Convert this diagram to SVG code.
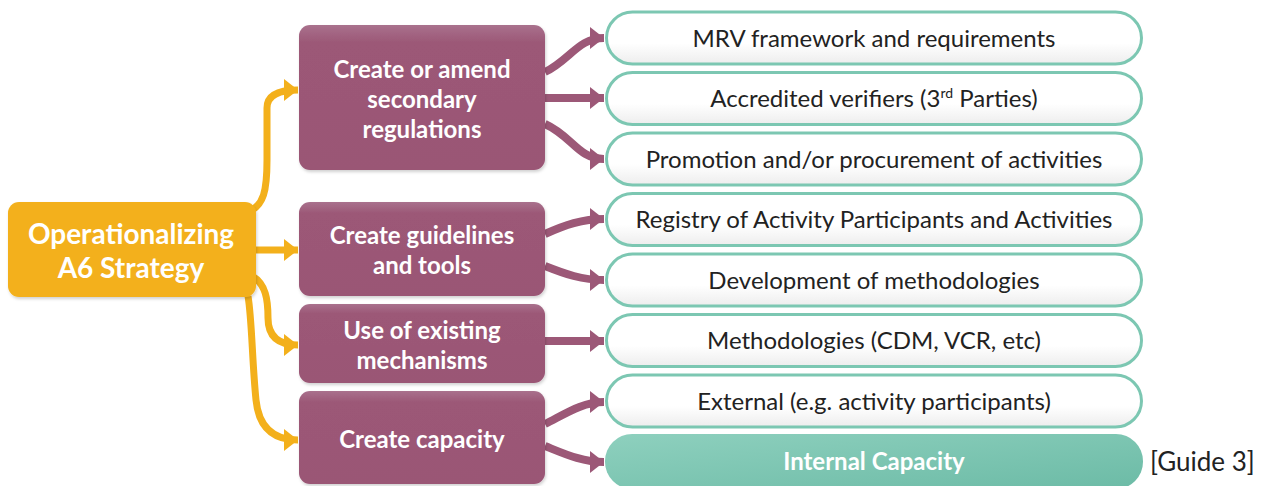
<svg xmlns="http://www.w3.org/2000/svg" width="1268" height="486" viewBox="0 0 1268 486">
<defs>
<linearGradient id="gPurple" x1="0" y1="0" x2="0" y2="1">
<stop offset="0" stop-color="#A9718D"/>
<stop offset="0.12" stop-color="#9C5877"/>
<stop offset="1" stop-color="#9A5675"/>
</linearGradient>
<linearGradient id="gWhite" x1="0" y1="0" x2="0" y2="1">
<stop offset="0" stop-color="#FFFFFF"/>
<stop offset="0.6" stop-color="#FFFFFF"/>
<stop offset="1" stop-color="#EDEDED"/>
</linearGradient>
<linearGradient id="gTeal" x1="0" y1="0" x2="1" y2="1">
<stop offset="0" stop-color="#8ED0BE"/>
<stop offset="1" stop-color="#6CBBA6"/>
</linearGradient>
<marker id="aOr" markerUnits="userSpaceOnUse" markerWidth="16" markerHeight="22" refX="14" refY="11" orient="auto">
<path d="M0,0 L14,11 L0,22 Z" fill="#F3B01B"/>
</marker>
<marker id="aPu" markerUnits="userSpaceOnUse" markerWidth="16" markerHeight="22" refX="14" refY="11" orient="auto">
<path d="M0,0 L14,11 L0,22 Z" fill="#9C5877"/>
</marker>
<filter id="sh" x="-5%" y="-5%" width="112%" height="120%">
<feDropShadow dx="1" dy="2" stdDeviation="1.5" flood-color="#000" flood-opacity="0.18"/>
</filter>
</defs>
<style>
.or{fill:none;stroke:#F3B01B;stroke-width:7;marker-end:url(#aOr)}
.pu{fill:none;stroke:#9C5877;stroke-width:8;marker-end:url(#aPu)}
.pbox{fill:url(#gPurple);filter:url(#sh)}
.wbox{fill:url(#gWhite);stroke:#7CC7B2;stroke-width:3}
.ptxt{font-family:Lato,"Open Sans",sans-serif;font-weight:bold;font-size:24px;fill:#FFFFFF;text-anchor:middle}
.wtxt{font-family:Lato,"Open Sans",sans-serif;font-size:24px;fill:#222222;text-anchor:middle}
</style>
<g id="connectors">
<path class="or" d="M248,212 C264,206 267,190 267,160 L267,108 Q267,90 298,90"/>
<path class="or" d="M256,250 L298,250"/>
<path class="or" d="M252,276 C266,284 268,300 268,318 Q268,345 298,345"/>
<path class="or" d="M248,296 C252,320 252,360 256,400 Q260,440 298,440"/>
<path class="pu" d="M545,72 C570,60 578,38 604,38"/>
<path class="pu" d="M545,98 L604,98"/>
<path class="pu" d="M545,124 C572,136 578,159 604,159"/>
<path class="pu" d="M545,234 C565,225 582,219 604,219"/>
<path class="pu" d="M545,266 C565,274 582,280 604,280"/>
<path class="pu" d="M545,341 L604,341"/>
<path class="pu" d="M545,424 C565,414 582,402 604,402"/>
<path class="pu" d="M545,446 C565,454 582,462 604,462"/>
</g>
<g id="n0">
<rect x="8" y="202" width="248" height="95" rx="11" fill="#F3B01B" filter="url(#sh)"/>
<text x="131" y="244" font-family="Lato,'Open Sans',sans-serif" font-weight="bold" font-size="28" fill="#FFFFFF" text-anchor="middle">Operationalizing</text>
<text x="131" y="278" font-family="Lato,'Open Sans',sans-serif" font-weight="bold" font-size="28" fill="#FFFFFF" text-anchor="middle">A6 Strategy</text>
</g>
<g id="p1">
<rect class="pbox" x="299" y="25" width="246" height="145" rx="11"/>
<text class="ptxt" x="422" y="78">Create or amend</text>
<text class="ptxt" x="422" y="108">secondary</text>
<text class="ptxt" x="422" y="138">regulations</text>
</g>
<g id="p2">
<rect class="pbox" x="299" y="202" width="246" height="94" rx="11"/>
<text class="ptxt" x="422" y="244">Create guidelines</text>
<text class="ptxt" x="422" y="274">and tools</text>
</g>
<g id="p3">
<rect class="pbox" x="299" y="304" width="246" height="79" rx="11"/>
<text class="ptxt" x="422" y="339">Use of existing</text>
<text class="ptxt" x="422" y="369">mechanisms</text>
</g>
<g id="p4">
<rect class="pbox" x="299" y="391" width="246" height="93" rx="11"/>
<text class="ptxt" x="422" y="448">Create capacity</text>
</g>
<g id="r1">
<rect class="wbox" x="606.500" y="12" width="535" height="52" rx="26"/>
<text class="wtxt" x="874" y="46.500">MRV framework and requirements</text>
</g>
<g id="r2">
<rect class="wbox" x="606.500" y="72.500" width="535" height="52" rx="26"/>
<text class="wtxt" x="874" y="107">Accredited verifiers (3<tspan font-size="14" dy="-9">rd</tspan><tspan dy="9"> Parties)</tspan></text>
</g>
<g id="r3">
<rect class="wbox" x="606.500" y="133" width="535" height="52" rx="26"/>
<text class="wtxt" x="874" y="167.500">Promotion and/or procurement of activities</text>
</g>
<g id="r4">
<rect class="wbox" x="606.500" y="193.500" width="535" height="52" rx="26"/>
<text class="wtxt" x="874" y="228">Registry of Activity Participants and Activities</text>
</g>
<g id="r5">
<rect class="wbox" x="606.500" y="254" width="535" height="52" rx="26"/>
<text class="wtxt" x="874" y="288.500">Development of methodologies</text>
</g>
<g id="r6">
<rect class="wbox" x="606.500" y="314.500" width="535" height="52" rx="26"/>
<text class="wtxt" x="874" y="349">Methodologies (CDM, VCR, etc)</text>
</g>
<g id="r7">
<rect class="wbox" x="606.500" y="375" width="535" height="52" rx="26"/>
<text class="wtxt" x="874" y="409.500">External (e.g. activity participants)</text>
</g>
<g id="r8">
<rect x="605" y="434" width="538" height="55" rx="27" fill="url(#gTeal)"/>
<text x="874" y="470" font-family="Lato,'Open Sans',sans-serif" font-weight="bold" font-size="24" fill="#FFFFFF" text-anchor="middle">Internal Capacity</text>
</g>
<g id="label">
<text x="1150" y="471" font-family="Lato,'Open Sans',sans-serif" font-size="26" fill="#222222">[Guide 3]</text>
</g>
</svg>
